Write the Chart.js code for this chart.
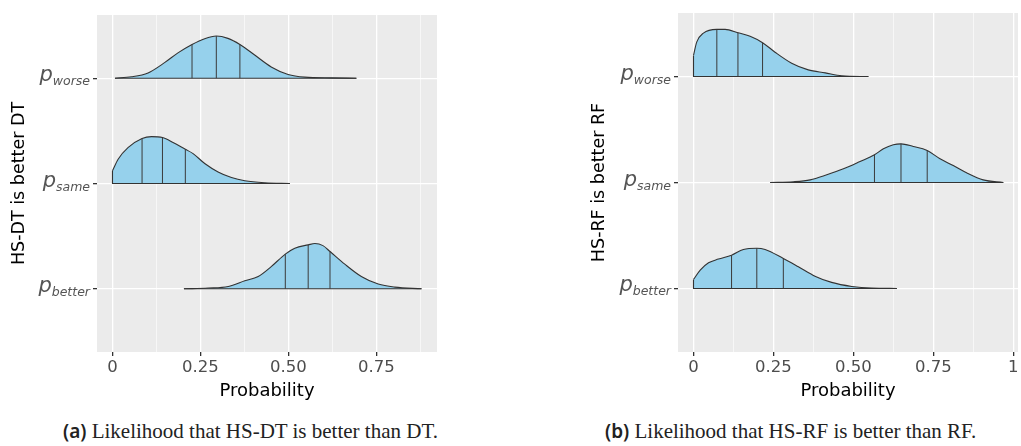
<!DOCTYPE html>
<html>
<head>
<meta charset="utf-8">
<script src="https://cdn.jsdelivr.net/npm/chart.js@4.4.1/dist/chart.umd.min.js"></script>
<style>
  html, body { margin: 0; padding: 0; background: #fff; }
  body { width: 1021px; height: 446px; position: relative; overflow: hidden; }
  .panel { position: absolute; top: 0; }
  #panelA { left: 0; width: 450px; height: 402px; }
  #panelB { left: 580px; width: 441px; height: 402px; }
  .caption {
    position: absolute; top: 419px;
    font-family: 'Liberation Serif', serif; font-size: 21px; line-height: 24px;
    color: #222; white-space: nowrap;
  }
  .caption b { font-family: 'Noto Sans', sans-serif; font-weight: 600; font-size: 19px; }
</style>
</head>
<body>
<div class="panel" id="panelA"><canvas id="chartA" width="450" height="402"></canvas></div>
<div class="panel" id="panelB"><canvas id="chartB" width="441" height="402"></canvas></div>
<div class="caption" style="left:63px"><b>(a)</b> Likelihood that HS-DT is better than DT.</div>
<div class="caption" style="left:605px"><b>(b)</b> Likelihood that HS-RF is better than RF.</div>

<script>
// rows from top to bottom, and where each ridge sits on the y scale
const rowNames = ['worse', 'same', 'better'];
const rowBase = [3, 2, 1];

// (a) HS-DT vs DT: probability grid, ridge height, quartiles
const dtWorseProb = [0.007, 0.054, 0.101, 0.149, 0.186, 0.226, 0.262, 0.295, 0.328, 0.362, 0.404, 0.451, 0.499, 0.546, 0.622, 0.693];
const dtWorseDens = [0, 0.013, 0.05, 0.15, 0.24, 0.32, 0.375, 0.40, 0.378, 0.32, 0.22, 0.107, 0.035, 0.01, 0.003, 0];
const dtWorseQuart = [0.226, 0.295, 0.362];

const dtSameProb = [0, 0.016, 0.044, 0.084, 0.111, 0.142, 0.172, 0.207, 0.229, 0.262, 0.300, 0.338, 0.376, 0.433, 0.504];
const dtSameDens = [0.12, 0.23, 0.34, 0.427, 0.445, 0.436, 0.39, 0.325, 0.284, 0.19, 0.11, 0.057, 0.026, 0.007, 0];
const dtSameQuart = [0.084, 0.142, 0.207];

const dtBetterProb = [0.203, 0.272, 0.329, 0.376, 0.414, 0.451, 0.491, 0.518, 0.556, 0.575, 0.598, 0.618, 0.66, 0.707, 0.755, 0.802, 0.878];
const dtBetterDens = [0, 0.007, 0.022, 0.076, 0.117, 0.211, 0.329, 0.386, 0.417, 0.43, 0.41, 0.354, 0.234, 0.117, 0.045, 0.016, 0];
const dtBetterQuart = [0.491, 0.556, 0.618];

// (b) HS-RF vs RF
const rfWorseProb = [0, 0.010, 0.031, 0.073, 0.099, 0.139, 0.177, 0.216, 0.255, 0.307, 0.359, 0.412, 0.464, 0.547];
const rfWorseDens = [0.2, 0.325, 0.41, 0.445, 0.445, 0.414, 0.38, 0.32, 0.23, 0.126, 0.063, 0.035, 0.007, 0];
const rfWorseQuart = [0.073, 0.139, 0.216];

const rfSameProb = [0.24, 0.3125, 0.365, 0.417, 0.469, 0.521, 0.566, 0.594, 0.625, 0.649, 0.6875, 0.731, 0.771, 0.8125, 0.854, 0.906, 0.969];
const rfSameDens = [0, 0.007, 0.025, 0.073, 0.129, 0.198, 0.261, 0.318, 0.356, 0.365, 0.34, 0.302, 0.224, 0.16, 0.092, 0.025, 0];
const rfSameQuart = [0.566, 0.649, 0.731];

const rfBetterProb = [0, 0.021, 0.047, 0.078, 0.119, 0.156, 0.198, 0.224, 0.281, 0.328, 0.38, 0.432, 0.495, 0.557, 0.636];
const rfBetterDens = [0.085, 0.173, 0.242, 0.277, 0.314, 0.368, 0.38, 0.368, 0.283, 0.205, 0.116, 0.057, 0.019, 0.003, 0];
const rfBetterQuart = [0.119, 0.198, 0.281];

// x ticks (majors get labels, the rest are minor grid lines)
const dtTickValues = [0, 0.125, 0.25, 0.375, 0.5, 0.625, 0.75, 0.875];
const rfTickValues = [0, 0.125, 0.25, 0.375, 0.5, 0.625, 0.75, 0.875, 1];
const majorTickValues = [0, 0.25, 0.5, 0.75, 1];
const majorTickLabels = ['0', '0.25', '0.50', '0.75', '1'];

const FILL = '#96d1ec';
const EDGE = '#333333';
const FONT = 'DejaVu Sans';

function majorIndex(v) {
  return majorTickValues.findIndex(m => Math.abs(m - v) < 1e-9);
}

function ridgeDatasets(prob, dens, quart, base) {
  const last = prob.length - 1;
  const qLines = [];
  quart.forEach(q => {
    const k = prob.indexOf(q);
    qLines.push({ x: q, y: base }, { x: q, y: base + dens[k] }, { x: q, y: null });
  });
  return [
    {
      data: prob.map((x, i) => ({ x, y: base + dens[i] })),
      fill: { value: base },
      backgroundColor: FILL,
      borderColor: EDGE,
      borderWidth: 1.1,
      cubicInterpolationMode: 'monotone',
      pointRadius: 0,
      order: 3
    },
    {
      data: [{ x: prob[0], y: base + dens[0] }, { x: prob[0], y: base }, { x: prob[last], y: base }],
      fill: false,
      borderColor: EDGE,
      borderWidth: 1.1,
      tension: 0,
      pointRadius: 0,
      order: 2
    },
    {
      data: qLines,
      fill: false,
      borderColor: '#3a3a3a',
      borderWidth: 1,
      tension: 0,
      pointRadius: 0,
      order: 1
    }
  ];
}

const panelBackground = {
  id: 'panelBackground',
  beforeDraw(chart) {
    const { ctx, chartArea: a } = chart;
    ctx.save();
    ctx.fillStyle = '#ebebeb';
    ctx.fillRect(a.left, a.top, a.right - a.left, a.bottom - a.top);
    ctx.restore();
  }
};

// y labels are p with a subscript, so they are drawn by hand at the scale's positions
const rowLabels = {
  id: 'rowLabels',
  afterDraw(chart) {
    const { ctx, chartArea, scales } = chart;
    const right = chartArea.left - 7;
    ctx.save();
    ctx.fillStyle = '#555555';
    ctx.textAlign = 'left';
    ctx.textBaseline = 'alphabetic';
    rowNames.forEach((name, i) => {
      const y = scales.y.getPixelForValue(rowBase[i]);
      ctx.font = `italic 12.5px "${FONT}"`;
      const subW = ctx.measureText(name).width;
      ctx.fillText(name, right - subW, y + 7);
      ctx.font = `italic 21px "${FONT}"`;
      const pW = ctx.measureText('p').width;
      ctx.fillText('p', right - subW - pW, y + 3);
    });
    ctx.restore();
  }
};

function makeChart(id, cfg) {
  const datasets = [];
  cfg.series.forEach((s, i) => {
    datasets.push(...ridgeDatasets(s[0], s[1], s[2], rowBase[i]));
  });

  return new Chart(document.getElementById(id), {
    type: 'line',
    data: { datasets },
    options: {
      responsive: false,
      animation: false,
      layout: { padding: cfg.padding },
      plugins: { legend: { display: false }, tooltip: { enabled: false } },
      scales: {
        x: {
          type: 'linear',
          min: cfg.xMin,
          max: cfg.xMax,
          afterBuildTicks: s => { s.ticks = cfg.ticks.map(v => ({ value: v })); },
          afterFit: s => { s.height = 50; },
          border: { display: false },
          grid: {
            color: '#ffffff',
            lineWidth: c => (c.tick && majorIndex(c.tick.value) >= 0 ? 1.3 : 0.6),
            tickColor: c => (c.tick && majorIndex(c.tick.value) >= 0 ? '#333333' : 'rgba(0,0,0,0)'),
            tickLength: 4
          },
          ticks: {
            callback: v => { const k = majorIndex(v); return k >= 0 ? majorTickLabels[k] : ''; },
            color: '#4d4d4d',
            font: { family: FONT, size: 16.5 },
            padding: 2,
            maxRotation: 0,
            autoSkip: false
          },
          title: {
            display: true,
            text: 'Probability',
            color: '#000',
            font: { family: FONT, size: 18 },
            padding: { top: 0, bottom: 0 }
          }
        },
        y: {
          type: 'linear',
          min: 0.4,
          max: 3.6,
          afterBuildTicks: s => { s.ticks = rowBase.map(v => ({ value: v })); },
          afterFit: s => { s.width = cfg.yWidth; },
          border: { display: false },
          grid: { color: '#ffffff', lineWidth: 1.3, tickColor: '#333333', tickLength: 4 },
          ticks: { display: false },
          title: {
            display: true,
            text: cfg.yTitle,
            color: '#000',
            font: { family: FONT, size: 17.5 },
            padding: { top: 9, bottom: 0 }
          }
        }
      }
    },
    plugins: [panelBackground, rowLabels]
  });
}

makeChart('chartA', {
  series: [
    [dtWorseProb, dtWorseDens, dtWorseQuart],
    [dtSameProb, dtSameDens, dtSameQuart],
    [dtBetterProb, dtBetterDens, dtBetterQuart]
  ],
  xMin: -0.044, xMax: 0.922,
  ticks: dtTickValues,
  yTitle: 'HS-DT is better DT',
  yWidth: 97,
  padding: { top: 15, right: 13, left: 0, bottom: 0 }
});

makeChart('chartB', {
  series: [
    [rfWorseProb, rfWorseDens, rfWorseQuart],
    [rfSameProb, rfSameDens, rfSameQuart],
    [rfBetterProb, rfBetterDens, rfBetterQuart]
  ],
  xMin: -0.0485, xMax: 1.015,
  ticks: rfTickValues,
  yTitle: 'HS-RF is better RF',
  yWidth: 98,
  padding: { top: 13, right: 3, left: 0, bottom: 0 }
});
</script>
</body>
</html>
